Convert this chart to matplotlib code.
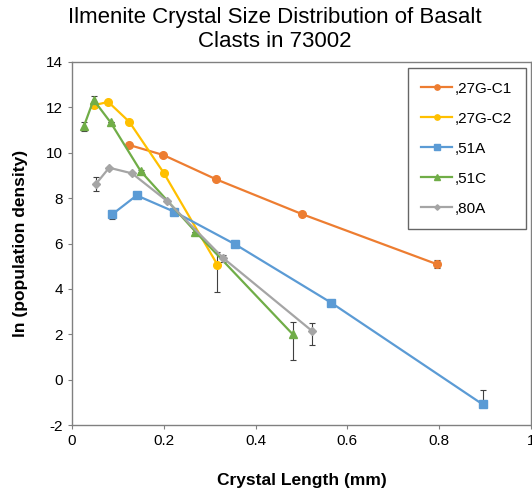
import matplotlib.pyplot as plt

plt.rcParams['font.family'] = ['Liberation Sans', 'DejaVu Sans']
plt.rcParams['axes.unicode_minus'] = False

# data
labels = [',27G-C1', ',27G-C2', ',51A', ',51C', ',80A']

x_c1 = [0.125, 0.199, 0.314, 0.502, 0.795]
y_c1 = [10.34, 9.90, 8.83, 7.29, 5.09]
err_c1 = [[0.0, 0.0, 0.0, 0.0, 0.18], [0.0, 0.0, 0.0, 0.0, 0.18]]

x_c2 = [0.049, 0.079, 0.125, 0.200, 0.317]
y_c2 = [12.10, 12.24, 11.36, 9.11, 5.06]
err_c2 = [[0.15, 0.0, 0.0, 0.0, 1.20], [0.15, 0.0, 0.0, 0.0, 0.55]]

x_51a = [0.088, 0.141, 0.223, 0.355, 0.564, 0.895]
y_51a = [7.29, 8.12, 7.40, 5.97, 3.40, -1.09]
err_51a = [[0.2, 0.0, 0.0, 0.0, 0.1, 0.0], [0.2, 0.0, 0.0, 0.0, 0.1, 0.65]]

x_51c = [0.026, 0.047, 0.084, 0.150, 0.269, 0.481]
y_51c = [11.17, 12.33, 11.34, 9.18, 6.52, 2.00]
err_51c = [[0.2, 0.15, 0.0, 0.05, 0.0, 1.15], [0.2, 0.15, 0.0, 0.05, 0.0, 0.53]]

x_80a = [0.052, 0.081, 0.131, 0.208, 0.330, 0.524]
y_80a = [8.62, 9.34, 9.09, 7.86, 5.35, 2.13]
err_80a = [[0.3, 0.0, 0.0, 0.0, 0.15, 0.62], [0.3, 0.0, 0.0, 0.0, 0.15, 0.35]]

fig = plt.figure(figsize=(5.32, 4.88), dpi=100)
ax = fig.add_axes([0.1353, 0.129, 0.8627, 0.744])

series = [
    (x_c1, y_c1, err_c1, '#ED7D31', 'o', 5.5),
    (x_c2, y_c2, err_c2, '#FFC000', 'o', 5.5),
    (x_51a, y_51a, err_51a, '#5B9BD5', 's', 5.5),
    (x_51c, y_51c, err_51c, '#70AD47', '^', 5.5),
    (x_80a, y_80a, err_80a, '#A5A5A5', 'D', 4),
]

for (x, y, err, col, mk, ms), lab in zip(series, labels):
    ax.errorbar(x, y, yerr=err, fmt='none', ecolor='#404040', elinewidth=0.8,
                capsize=2.5, capthick=0.8, zorder=2)
    ax.plot(x, y, color=col, marker=mk, markersize=ms, linewidth=1.6,
            label=lab, zorder=3)

ax.set_xlim(0, 1)
ax.set_ylim(-2, 14)
ax.set_xticks([0, 0.2, 0.4, 0.6, 0.8, 1])
ax.set_xticklabels(['0', '0.2', '0.4', '0.6', '0.8', '1'])
ax.set_yticks(range(-2, 15, 2))
ax.tick_params(labelsize=11, length=3, color='#808080', width=0.8)
for s in ax.spines.values():
    s.set_color('#808080')
    s.set_linewidth(1)

ax.set_xlabel('Crystal Length (mm)', fontsize=12.5, fontweight='bold', labelpad=18)
ax.set_ylabel('ln (population density)', fontsize=12.5, fontweight='bold', labelpad=13)

fig.text(0.517, 0.985, 'Ilmenite Crystal Size Distribution of Basalt\nClasts in 73002',
         ha='center', va='top', fontsize=16, linespacing=1.15)

leg = ax.legend(loc='upper right', bbox_to_anchor=(0.989, 0.984), fontsize=11,
                frameon=True, fancybox=False, edgecolor='#404040',
                handlelength=2.0, handletextpad=0.2, labelspacing=1.05,
                borderpad=0.9, borderaxespad=0, markerscale=0.7)
leg.get_frame().set_linewidth(1)

fig.savefig('out.png', dpi=100)
